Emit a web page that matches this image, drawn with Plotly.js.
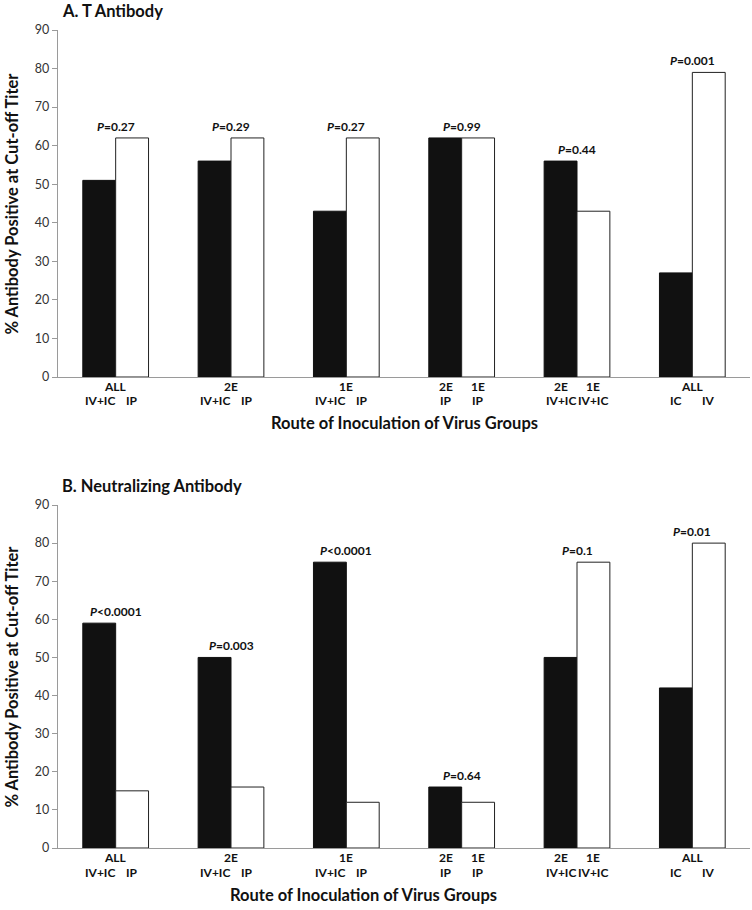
<!DOCTYPE html>
<html>
<head>
<meta charset="utf-8">
<script src="https://cdn.plot.ly/plotly-3.0.1.min.js"></script>
<style>html,body{margin:0;padding:0;background:#fff;}#chart{width:752px;height:910px;}</style>
</head>
<body>
<div id="chart"></div>
<script>
// ---- data ----
var groups = ['g1', 'g2', 'g3', 'g4', 'g5', 'g6'];
var groupTop = ['ALL', '2E', '1E', '', '', 'ALL'];
var blackTop = ['', '', '', '2E', '2E', ''];
var whiteTop = ['', '', '', '1E', '1E', ''];
var blackRoute = ['IV+IC', 'IV+IC', 'IV+IC', 'IP', 'IV+IC', 'IC'];
var whiteRoute = ['IP', 'IP', 'IP', 'IP', 'IV+IC', 'IV'];

var tBlack = [51, 56, 43, 62, 56, 27];
var tWhite = [62, 62, 62, 62, 43, 79];
var tP = ['=0.27', '=0.29', '=0.27', '=0.99', '=0.44', '=0.001'];

var nBlack = [59, 50, 75, 16, 50, 42];
var nWhite = [15, 16, 12, 12, 75, 80];
var nP = ['<0.0001', '=0.003', '<0.0001', '=0.64', '=0.1', '=0.01'];

var panelTitles = ['A. T Antibody', 'B. Neutralizing Antibody'];
var xTitle = 'Route of Inoculation of Virus Groups';
var yTitle = '% Antibody Positive at Cut-off Titer';
var yTicks = [0, 10, 20, 30, 40, 50, 60, 70, 80, 90];

// ---- build ----
var FONT = 'Lato, "Open Sans", Arial, sans-serif';
var traces = [];
function addPanel(xa, ya, black, white) {
  traces.push({type: 'bar', x: groups, y: black, xaxis: xa, yaxis: ya,
    marker: {color: '#111111', line: {color: '#111111', width: 1}}, hoverinfo: 'y', showlegend: false});
  traces.push({type: 'bar', x: groups, y: white, xaxis: xa, yaxis: ya,
    marker: {color: '#ffffff', line: {color: '#222222', width: 1}}, hoverinfo: 'y', showlegend: false});
}
addPanel('x', 'y', tBlack, tWhite);
addPanel('x2', 'y2', nBlack, nWhite);

var annotations = [];
function panelAnn(xr, yr, black, white, pvals, line1, line2, titleText, xTitleShift, xTitleY) {
  var yd = yr + ' domain';
  var xd = xr + ' domain';
  var lf = {family: FONT, size: 12, color: '#111'};
  for (var i = 0; i < groups.length; i++) {
    var top = Math.max(black[i], white[i]);
    annotations.push({xref: xr, yref: yr, x: groups[i], y: top, yanchor: 'bottom', yshift: 2,
      text: '<b><i>P</i>' + pvals[i].replace('<', '&lt;') + '</b>', showarrow: false,
      font: {family: FONT, size: 12, color: '#111'}});
    if (groupTop[i]) annotations.push({xref: xr, yref: yr, x: groups[i], y: 0, yanchor: 'middle', yshift: line1,
      text: '<b>' + groupTop[i] + '</b>', showarrow: false, font: lf});
    if (blackTop[i]) annotations.push({xref: xr, yref: yr, x: groups[i], y: 0, xshift: -16, yanchor: 'middle', yshift: line1,
      text: '<b>' + blackTop[i] + '</b>', showarrow: false, font: lf});
    if (whiteTop[i]) annotations.push({xref: xr, yref: yr, x: groups[i], y: 0, xshift: 16, yanchor: 'middle', yshift: line1,
      text: '<b>' + whiteTop[i] + '</b>', showarrow: false, font: lf});
    annotations.push({xref: xr, yref: yr, x: groups[i], y: 0, xshift: -16, yanchor: 'middle', yshift: line2,
      text: '<b>' + blackRoute[i] + '</b>', showarrow: false, font: lf});
    annotations.push({xref: xr, yref: yr, x: groups[i], y: 0, xshift: 16, yanchor: 'middle', yshift: line2,
      text: '<b>' + whiteRoute[i] + '</b>', showarrow: false, font: lf});
  }
  annotations.push({xref: xd, yref: yd, x: 0.5, y: 0, yanchor: 'middle', yshift: xTitleY, xshift: xTitleShift,
    text: '<b>' + xTitle + '</b>', showarrow: false, font: {family: FONT, size: 16.5, color: '#111'}});
  annotations.push({xref: xd, yref: yd, x: 0, y: 0.5, xanchor: 'center', xshift: -46, textangle: -90,
    text: '<b>' + yTitle + '</b>', showarrow: false, font: {family: FONT, size: 16.5, color: '#111'}});
  annotations.push({xref: 'paper', yref: yd, x: 0, y: 1, xanchor: 'left', yanchor: 'middle', xshift: 2, yshift: 19,
    text: '<b>' + titleText + '</b>', showarrow: false, font: {family: FONT, size: 16.5, color: '#111'}});
}
panelAnn('x', 'y', tBlack, tWhite, tP, -9, -23, panelTitles[0], 0, -46);
panelAnn('x2', 'y2', nBlack, nWhite, nP, -9, -24, panelTitles[1], -41, -47);

function xax(anchor) {
  return {anchor: anchor, domain: [0, 1], showticklabels: false, ticks: '', showgrid: false, zeroline: false,
    showline: true, linecolor: '#9a9a9a', linewidth: 1.2, fixedrange: true};
}
function yax(anchor, dom) {
  return {anchor: anchor, domain: dom, range: [0, 90], tickvals: yTicks, ticks: 'outside', ticklen: 5,
    tickcolor: '#9a9a9a', showgrid: false, zeroline: false, showline: true, linecolor: '#9a9a9a', linewidth: 1.2,
    tickfont: {family: FONT, size: 12.5, color: '#333'}, fixedrange: true};
}

var layout = {
  width: 752, height: 910,
  margin: {l: 58, r: 2, t: 30, b: 62},
  paper_bgcolor: '#ffffff', plot_bgcolor: '#ffffff',
  barmode: 'group', bargap: 0.43, bargroupgap: 0,
  showlegend: false,
  xaxis: xax('y'), yaxis: yax('x', [0.5758, 1]),
  xaxis2: xax('y2'), yaxis2: yax('x2', [0, 0.4193]),
  annotations: annotations,
  font: {family: FONT}
};

Plotly.newPlot('chart', traces, layout, {staticPlot: true, displayModeBar: false});
</script>
</body>
</html>
